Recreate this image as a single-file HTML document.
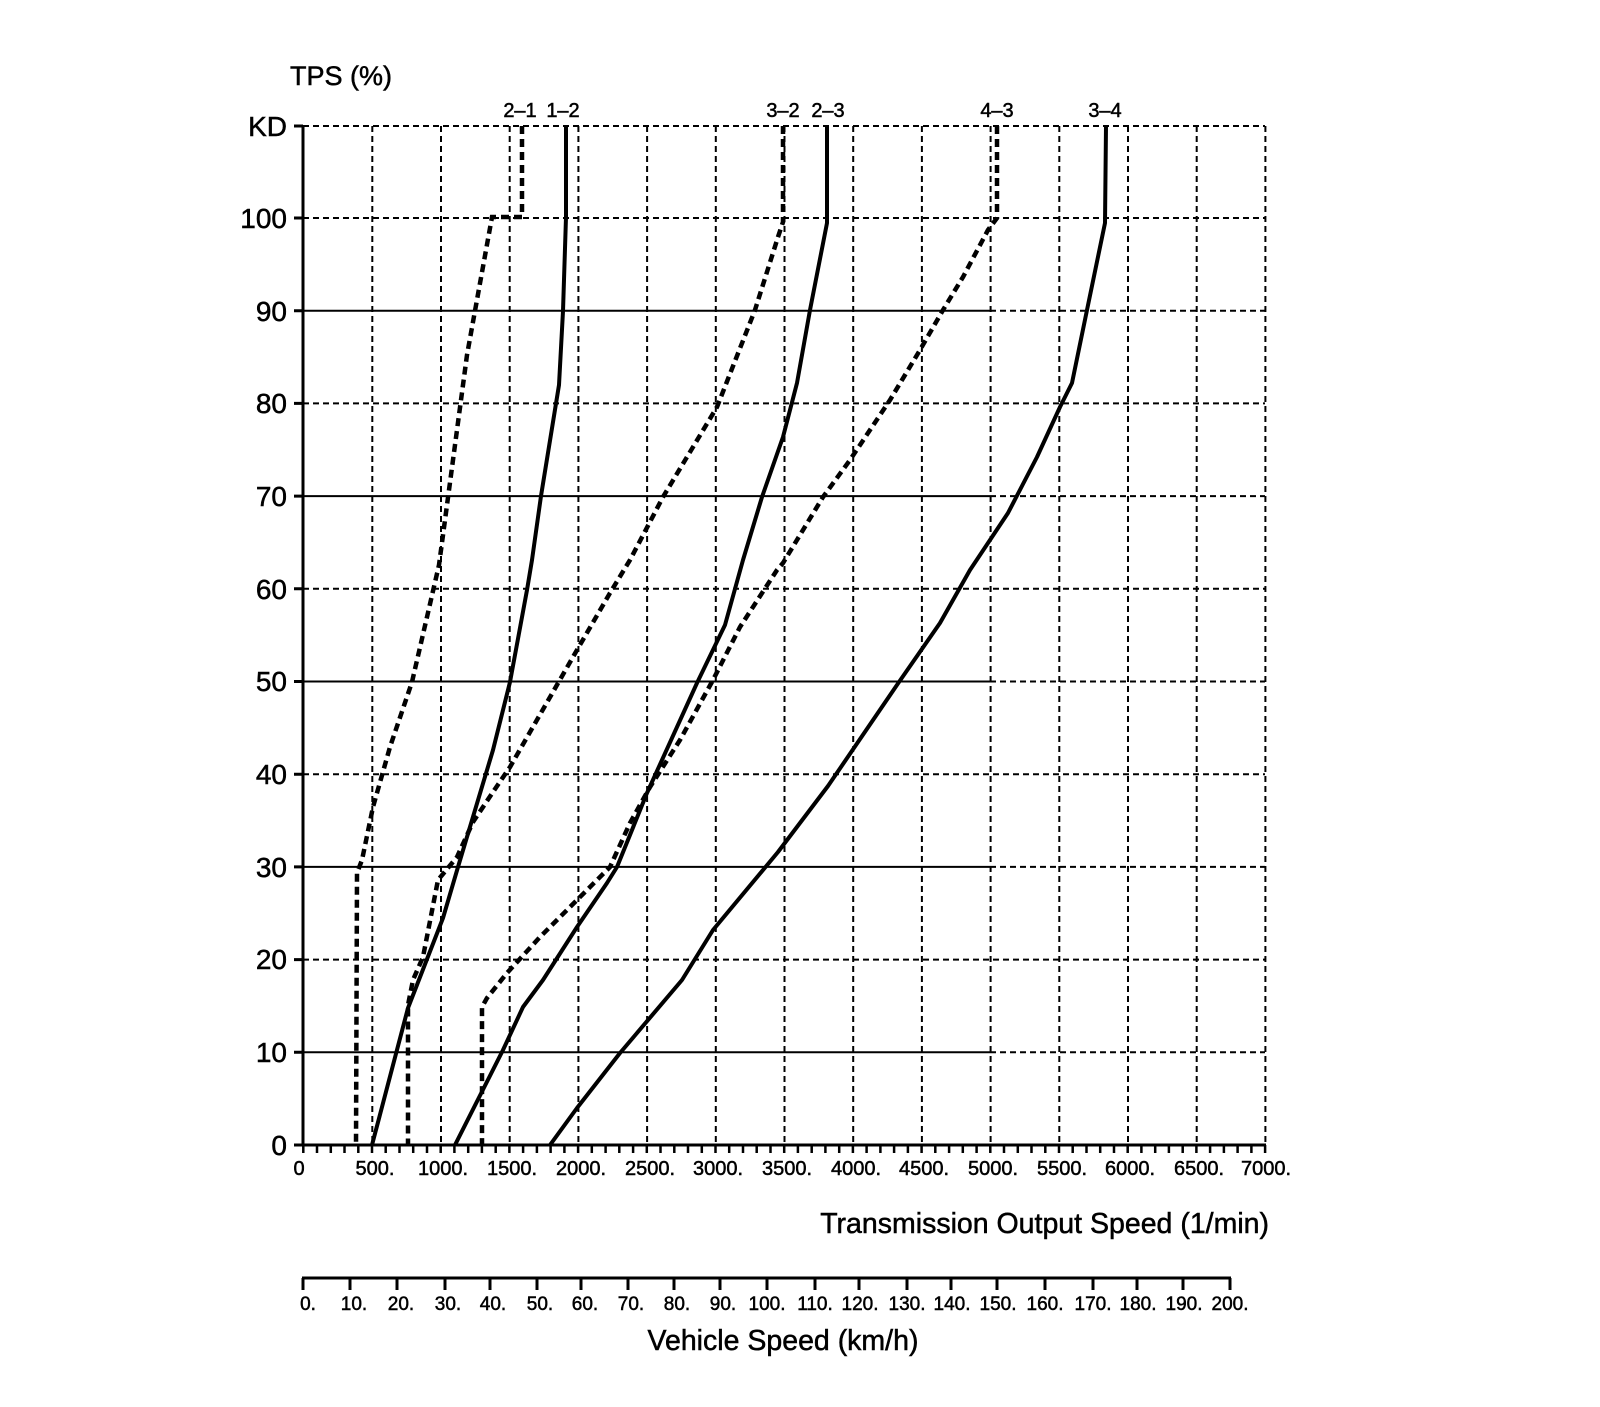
<!DOCTYPE html>
<html><head><meta charset="utf-8"><style>
html,body{margin:0;padding:0;background:#fff}
svg text{font-family:"Liberation Sans",sans-serif;fill:#000;stroke:#000;stroke-width:0.5}
</style></head><body>
<svg width="1600" height="1402" viewBox="0 0 1600 1402" xmlns="http://www.w3.org/2000/svg">
<g stroke="#000" stroke-width="2" stroke-dasharray="6 4" fill="none">
<line x1="372.3" y1="126" x2="372.3" y2="1145"/><line x1="441" y1="126" x2="441" y2="1145"/>
<line x1="509.7" y1="126" x2="509.7" y2="1145"/><line x1="578.4" y1="126" x2="578.4" y2="1145"/>
<line x1="647.1" y1="126" x2="647.1" y2="1145"/><line x1="715.8" y1="126" x2="715.8" y2="1145"/>
<line x1="784.5" y1="126" x2="784.5" y2="1145"/><line x1="853.2" y1="126" x2="853.2" y2="1145"/>
<line x1="921.9" y1="126" x2="921.9" y2="1145"/><line x1="990.6" y1="126" x2="990.6" y2="1145"/>
<line x1="1059.3" y1="126" x2="1059.3" y2="1145"/><line x1="1128" y1="126" x2="1128" y2="1145"/>
<line x1="1196.7" y1="126" x2="1196.7" y2="1145"/><line x1="1265.4" y1="126" x2="1265.4" y2="1145"/>
<line x1="303" y1="126" x2="1265" y2="126"/><line x1="303" y1="218" x2="1265" y2="218"/>
<line x1="303" y1="403.4" x2="1265" y2="403.4"/><line x1="303" y1="588.8" x2="1265" y2="588.8"/>
<line x1="303" y1="774.2" x2="1265" y2="774.2"/><line x1="303" y1="959.6" x2="1265" y2="959.6"/>
<line x1="990" y1="310.7" x2="1265" y2="310.7"/><line x1="990" y1="496.1" x2="1265" y2="496.1"/>
<line x1="990" y1="681.5" x2="1265" y2="681.5"/><line x1="990" y1="866.9" x2="1265" y2="866.9"/>
<line x1="990" y1="1052.3" x2="1265" y2="1052.3"/>
</g>
<g stroke="#000" stroke-width="2" fill="none">
<line x1="303" y1="310.7" x2="990" y2="310.7"/><line x1="303" y1="496.1" x2="990" y2="496.1"/>
<line x1="303" y1="681.5" x2="990" y2="681.5"/><line x1="303" y1="866.9" x2="990" y2="866.9"/>
<line x1="303" y1="1052.3" x2="990" y2="1052.3"/>
</g>
<g stroke="#000" stroke-width="3" fill="none">
<line x1="303" y1="125" x2="303" y2="1146"/><line x1="302" y1="1145" x2="1266" y2="1145"/>
<path d="M294 126H303M294 218H303M294 310.7H303M294 403.4H303M294 496.1H303M294 588.8H303M294 681.5H303M294 774.2H303M294 866.9H303M294 959.6H303M294 1052.3H303M294 1145H303"/>
<line x1="302" y1="1278" x2="1231" y2="1278"/>
</g>
<path stroke="#000" stroke-width="2.5" fill="none" d="M303.3 1145v8M317 1145v8M330.8 1145v8M344.5 1145v8M358.3 1145v8M372 1145v8M385.7 1145v8M399.5 1145v8M413.2 1145v8M427 1145v8M440.7 1145v8M454.4 1145v8M468.2 1145v8M481.9 1145v8M495.7 1145v8M509.4 1145v8M523.1 1145v8M536.9 1145v8M550.6 1145v8M564.4 1145v8M578.1 1145v8M591.8 1145v8M605.6 1145v8M619.3 1145v8M633.1 1145v8M646.8 1145v8M660.5 1145v8M674.3 1145v8M688 1145v8M701.8 1145v8M715.5 1145v8M729.2 1145v8M743 1145v8M756.7 1145v8M770.5 1145v8M784.2 1145v8M797.9 1145v8M811.7 1145v8M825.4 1145v8M839.2 1145v8M852.9 1145v8M866.6 1145v8M880.4 1145v8M894.1 1145v8M907.9 1145v8M921.6 1145v8M935.3 1145v8M949.1 1145v8M962.8 1145v8M976.6 1145v8M990.3 1145v8M1004 1145v8M1017.8 1145v8M1031.5 1145v8M1045.3 1145v8M1059 1145v8M1072.7 1145v8M1086.5 1145v8M1100.2 1145v8M1114 1145v8M1127.7 1145v8M1141.4 1145v8M1155.2 1145v8M1168.9 1145v8M1182.7 1145v8M1196.4 1145v8M1210.1 1145v8M1223.9 1145v8M1237.6 1145v8M1251.4 1145v8M1265.1 1145v8"/>
<path stroke="#000" stroke-width="3" fill="none" d="M303 1278v12M350 1278v12M397 1278v12M445 1278v12M490 1278v12M537 1278v12M581 1278v12M628 1278v12M674 1278v12M720 1278v12M767 1278v12M815 1278v12M859 1278v12M907 1278v12M951 1278v12M997 1278v12M1045 1278v12M1093 1278v12M1137 1278v12M1183 1278v12M1230 1278v12"/>
<g fill="none" stroke="#000" stroke-width="4" stroke-linejoin="round">
<polyline points="566,126 566,217 563,311 559,385 541,496 532,560 527,590 510,682 493,750 458,867 443,918 408,1008 372,1145"/>
<polyline points="827,126 827,223 810,310 797,383 783,437 762,497 743,560 725,625 697,683 647,793 617,867 607,883 577,927 543,980 523,1007 503,1050 455,1145"/>
<polyline points="1106,126 1105,223 1087,310 1072,383 1060,407 1037,457 1008,513 970,570 940,623 899,682 828,786 778,852 713,930 682,980 620,1053 577,1108 550,1145"/>
</g>
<g fill="none" stroke="#000" stroke-width="4.5" stroke-dasharray="8 5">
<polyline points="522,126 522,217 492,217 467,355 439,565 412,682 390,747 373,807 362,860 357,873 356,1145"/>
<polyline points="783,126 783,222 778,237 755,310 717,407 663,497 630,560 610,593 577,650 510,767 493,792 473,822 457,857 438,880 423,957 413,980 408,1005 408,1145"/>
<polyline points="997,126 997,218 988,230 963,277 943,310 920,350 890,400 850,460 823,497 783,563 777,570 740,627 713,680 680,740 650,787 630,823 610,867 577,900 540,937 507,973 487,998 482,1007 482,1145"/>
</g>
<text x="290" y="85" font-size="27">TPS (%)</text>
<g font-size="28" text-anchor="end">
<text x="287" y="136">KD</text><text x="287" y="228">100</text><text x="287" y="321">90</text>
<text x="287" y="413">80</text><text x="287" y="506">70</text><text x="287" y="599">60</text>
<text x="287" y="691">50</text><text x="287" y="784">40</text><text x="287" y="877">30</text>
<text x="287" y="969">20</text><text x="287" y="1062">10</text><text x="287" y="1155">0</text>
</g>
<g font-size="20" text-anchor="middle">
<text x="520" y="117">2–1</text><text x="563" y="117">1–2</text>
<text x="783" y="117">3–2</text><text x="828" y="117">2–3</text>
<text x="997" y="117">4–3</text><text x="1105" y="117">3–4</text>
</g>
<g font-size="20" text-anchor="middle">
<text x="299" y="1175">0</text><text x="375" y="1175">500.</text><text x="443" y="1175">1000.</text>
<text x="512" y="1175">1500.</text><text x="581" y="1175">2000.</text><text x="650" y="1175">2500.</text>
<text x="718" y="1175">3000.</text><text x="787" y="1175">3500.</text><text x="856" y="1175">4000.</text>
<text x="924" y="1175">4500.</text><text x="993" y="1175">5000.</text><text x="1062" y="1175">5500.</text>
<text x="1130" y="1175">6000.</text><text x="1199" y="1175">6500.</text><text x="1266" y="1175">7000.</text>
</g>
<text x="1269" y="1233" font-size="28.5" text-anchor="end">Transmission Output Speed (1/min)</text>
<g font-size="19" text-anchor="middle">
<text x="308" y="1310">0.</text><text x="354" y="1310">10.</text><text x="401" y="1310">20.</text>
<text x="448" y="1310">30.</text><text x="493" y="1310">40.</text><text x="540" y="1310">50.</text>
<text x="585" y="1310">60.</text><text x="631" y="1310">70.</text><text x="677" y="1310">80.</text>
<text x="723" y="1310">90.</text><text x="767" y="1310">100.</text><text x="815" y="1310">110.</text>
<text x="860" y="1310">120.</text><text x="907" y="1310">130.</text><text x="952" y="1310">140.</text>
<text x="998" y="1310">150.</text><text x="1045" y="1310">160.</text><text x="1093" y="1310">170.</text>
<text x="1138" y="1310">180.</text><text x="1184" y="1310">190.</text><text x="1230" y="1310">200.</text>
</g>
<text x="783" y="1350" font-size="28.5" text-anchor="middle">Vehicle Speed (km/h)</text>
</svg>
</body></html>
